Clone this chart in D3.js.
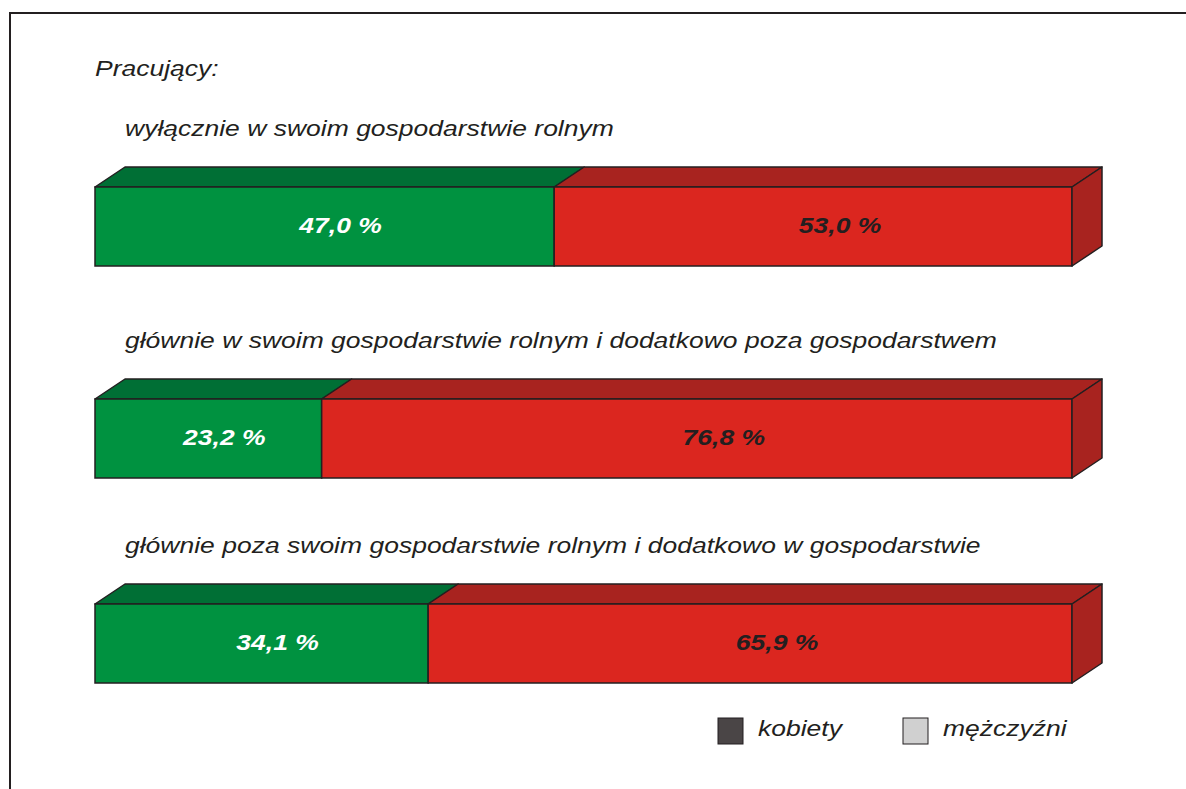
<!DOCTYPE html>
<html><head><meta charset="utf-8">
<script src="https://cdn.jsdelivr.net/npm/d3@7"></script>
<style>body{margin:0;background:#fff}svg{display:block}</style>
</head><body>
<svg id="c" width="1186" height="789"></svg>
<script>
const heading = "Pracujący:";
const categories = [
  "wyłącznie w swoim gospodarstwie rolnym",
  "głównie w swoim gospodarstwie rolnym i dodatkowo poza gospodarstwem",
  "głównie poza swoim gospodarstwie rolnym i dodatkowo w gospodarstwie"
];
const women = [47.0, 23.2, 34.1];
const men = [53.0, 76.8, 65.9];
const legendLabels = ["kobiety", "mężczyźni"];

const fmt = v => d3.format(".1f")(v).replace(".", ",") + " %";
const svg = d3.select("#c");
const font = "'Liberation Sans', Arial, sans-serif";
const SX = 1.205; // horizontally stretched lettering

function txt(parent, x, y, s, opts) {
  const t = parent.append("text")
    .attr("transform", `translate(${x},${y}) scale(${SX},1)`)
    .text(s)
    .attr("font-family", font).attr("font-style", "italic")
    .attr("font-size", opts.size || 22)
    .attr("fill", opts.fill || "#231f20");
  if (opts.bold) t.attr("font-weight", "bold");
  if (opts.anchor) t.attr("text-anchor", opts.anchor);
  return t;
}

// frame
svg.append("rect").attr("x", 10).attr("y", 13).attr("width", 1200).attr("height", 800)
  .attr("fill", "none").attr("stroke", "#231f20").attr("stroke-width", 2);

const x = d3.scaleLinear().domain([0, 100]).range([95, 1072]);
const barTop = [187, 399, 604];
const barH = 79, dx = 30, dy = -20;
const stroke = "#231f20";
const col = {
  w: {front: "#009240", top: "#006f35"},
  m: {front: "#db261f", top: "#a8231f"}
};

txt(svg, 95, 76, heading, {size: 22});

categories.forEach((cat, i) => {
  const y0 = barTop[i];
  txt(svg, 125, y0 - 51, cat, {size: 22});

  const segs = [
    {a: 0, b: women[i], c: col.w, label: fmt(women[i]), tc: "#ffffff", off: 16},
    {a: women[i], b: women[i] + men[i], c: col.m, label: fmt(men[i]), tc: "#231f20", off: 27}
  ];
  const g = svg.append("g");
  segs.forEach(s => {
    const xa = x(s.a), xb = x(s.b);
    g.append("path").attr("d", `M${xa},${y0}L${xa+dx},${y0+dy}L${xb+dx},${y0+dy}L${xb},${y0}Z`)
      .attr("fill", s.c.top).attr("stroke", stroke).attr("stroke-width", 1.5).attr("stroke-linejoin", "round");
    g.append("rect").attr("x", xa).attr("y", y0).attr("width", xb - xa).attr("height", barH)
      .attr("fill", s.c.front).attr("stroke", stroke).attr("stroke-width", 1.5);
  });
  const xe = x(women[i] + men[i]);
  g.append("path").attr("d", `M${xe},${y0}L${xe+dx},${y0+dy}L${xe+dx},${y0+dy+barH}L${xe},${y0+barH}Z`)
    .attr("fill", col.m.top).attr("stroke", stroke).attr("stroke-width", 1.5).attr("stroke-linejoin", "round");
  segs.forEach(s => {
    txt(g, (x(s.a) + x(s.b)) / 2 + s.off, y0 + 46, s.label,
      {size: 22, bold: true, fill: s.tc, anchor: "middle"});
  });
});

// legend
const legColors = ["#4a4546", "#d0d0d0"];
const legX = [718, 903];
legendLabels.forEach((l, i) => {
  svg.append("rect").attr("x", legX[i]).attr("y", 718).attr("width", 25).attr("height", 26)
    .attr("fill", legColors[i]).attr("stroke", "#231f20").attr("stroke-width", 1);
  txt(svg, legX[i] + 40, 736, l, {size: 22});
});
</script>
</body></html>
